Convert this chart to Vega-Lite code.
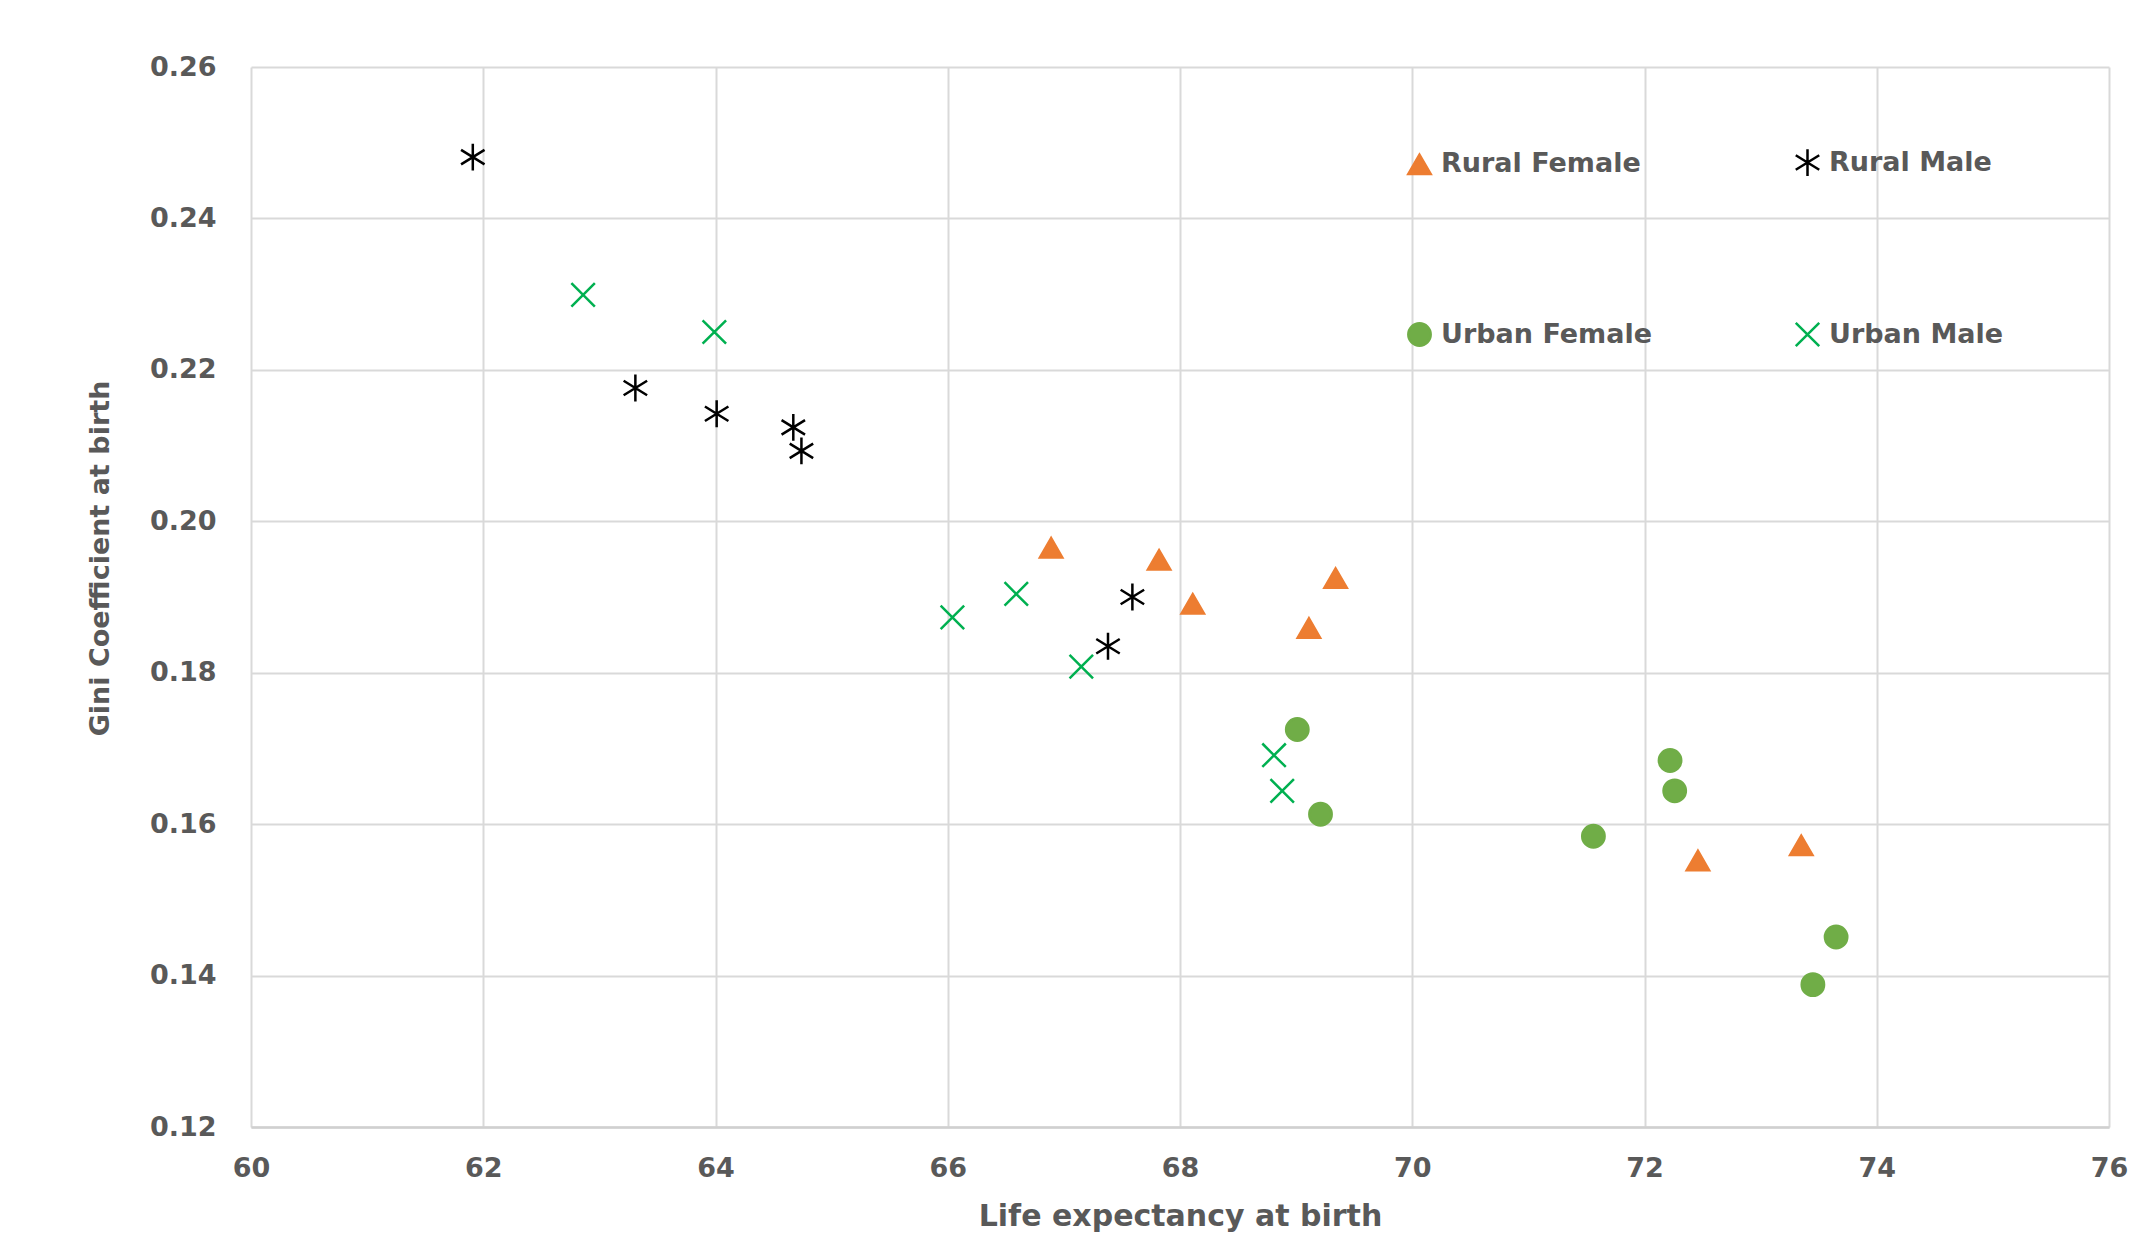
{
  "$schema": "https://vega.github.io/schema/vega-lite/v6.json",
  "width": 1858,
  "height": 1060,
  "autosize": "none",
  "padding": {"left": 251, "top": 67, "right": 34, "bottom": 126},
  "background": "white",
  "config": {
    "view": {"stroke": null},
    "font": "DejaVu Sans"
  },
  "data": {
    "values": [
      {"group": "Rural Male", "life": 61.91, "gini": 0.2481},
      {"group": "Rural Male", "life": 63.31, "gini": 0.2176},
      {"group": "Rural Male", "life": 64.01, "gini": 0.2142},
      {"group": "Rural Male", "life": 64.67, "gini": 0.2124},
      {"group": "Rural Male", "life": 64.74, "gini": 0.2093},
      {"group": "Rural Male", "life": 67.59, "gini": 0.1900},
      {"group": "Rural Male", "life": 67.38, "gini": 0.1835},
      {"group": "Urban Male", "life": 62.86, "gini": 0.2299},
      {"group": "Urban Male", "life": 63.99, "gini": 0.2250},
      {"group": "Urban Male", "life": 66.04, "gini": 0.1873},
      {"group": "Urban Male", "life": 66.59, "gini": 0.1904},
      {"group": "Urban Male", "life": 67.15, "gini": 0.1808},
      {"group": "Urban Male", "life": 68.81, "gini": 0.1691},
      {"group": "Urban Male", "life": 68.88, "gini": 0.1644},
      {"group": "Rural Female", "life": 66.89, "gini": 0.1965},
      {"group": "Rural Female", "life": 67.82, "gini": 0.1949},
      {"group": "Rural Female", "life": 68.11, "gini": 0.1891},
      {"group": "Rural Female", "life": 69.34, "gini": 0.1925},
      {"group": "Rural Female", "life": 69.11, "gini": 0.1859},
      {"group": "Rural Female", "life": 72.46, "gini": 0.1552},
      {"group": "Rural Female", "life": 73.35, "gini": 0.1572},
      {"group": "Urban Female", "life": 69.01, "gini": 0.1725},
      {"group": "Urban Female", "life": 69.21, "gini": 0.1613},
      {"group": "Urban Female", "life": 71.56, "gini": 0.1584},
      {"group": "Urban Female", "life": 72.22, "gini": 0.1684},
      {"group": "Urban Female", "life": 72.26, "gini": 0.1644},
      {"group": "Urban Female", "life": 73.65, "gini": 0.1451},
      {"group": "Urban Female", "life": 73.45, "gini": 0.1388}
    ]
  },
  "mark": {"type": "point", "opacity": 1, "strokeWidth": 2.5, "size": 500},
  "encoding": {
    "x": {
      "field": "life", "type": "quantitative",
      "scale": {"domain": [60, 76], "nice": false, "zero": false},
      "axis": {
        "title": "Life expectancy at birth",
        "values": [60, 62, 64, 66, 68, 70, 72, 74, 76],
        "grid": true, "gridColor": "#D9D9D9", "gridWidth": 2,
        "domain": true, "domainColor": "#D0D0D0", "domainWidth": 2.5,
        "ticks": false, "tickSize": 0,
        "labelFlush": false, "labelOverlap": false,
        "labelFont": "DejaVu Sans", "labelFontSize": 27, "labelFontWeight": "bold", "labelColor": "#595959",
        "labelBaseline": "middle", "labelPadding": 41,
        "titleFont": "DejaVu Sans", "titleFontSize": 30, "titleFontWeight": "bold", "titleColor": "#595959",
        "titleBaseline": "middle", "titleY": 89
      }
    },
    "y": {
      "field": "gini", "type": "quantitative",
      "scale": {"domain": [0.12, 0.26], "nice": false, "zero": false},
      "axis": {
        "title": "Gini Coefficient at birth",
        "values": [0.12, 0.14, 0.16, 0.18, 0.20, 0.22, 0.24, 0.26],
        "format": ".2f",
        "grid": true, "gridColor": "#D9D9D9", "gridWidth": 2,
        "domain": false, "ticks": false, "tickSize": 0,
        "labelFlush": false, "labelOverlap": false,
        "labelFont": "DejaVu Sans", "labelFontSize": 27, "labelFontWeight": "bold", "labelColor": "#595959",
        "labelPadding": 35,
        "titleFont": "DejaVu Sans", "titleFontSize": 27, "titleFontWeight": "bold", "titleColor": "#595959",
        "titleBaseline": "middle", "titleX": -151, "titleY": 491, "titleAngle": -90
      }
    },
    "shape": {
      "field": "group", "type": "nominal",
      "scale": {
        "domain": ["Rural Female", "Rural Male", "Urban Female", "Urban Male"],
        "range": ["triangle-up", "M0,-1.2L0,1.2M-1.05,-0.65L1.05,0.65M-1.05,0.65L1.05,-0.65", "circle", "M-1.05,-1.05L1.05,1.05M-1.05,1.05L1.05,-1.05"]
      },
      "legend": {
        "title": null, "orient": "none", "legendX": 1155, "legendY": 82, "direction": "horizontal",
        "columns": 2, "columnPadding": 138, "rowPadding": 136,
        "symbolSize": 500, "symbolStrokeWidth": 2.5,
        "labelFont": "DejaVu Sans", "labelFontSize": 27, "labelFontWeight": "bold", "labelColor": "#595959",
        "labelOffset": 8, "labelLimit": 400
      }
    },
    "fill": {
      "field": "group", "type": "nominal",
      "scale": {
        "domain": ["Rural Female", "Rural Male", "Urban Female", "Urban Male"],
        "range": ["#ED7D31", "#000000", "#70AD47", "#00B050"]
      },
      "legend": {
        "title": null, "orient": "none", "legendX": 1155, "legendY": 82, "direction": "horizontal",
        "columns": 2, "columnPadding": 138, "rowPadding": 136,
        "symbolSize": 500, "symbolStrokeWidth": 2.5,
        "labelFont": "DejaVu Sans", "labelFontSize": 27, "labelFontWeight": "bold", "labelColor": "#595959",
        "labelOffset": 8, "labelLimit": 400
      }
    },
    "stroke": {
      "field": "group", "type": "nominal",
      "scale": {
        "domain": ["Rural Female", "Rural Male", "Urban Female", "Urban Male"],
        "range": ["#ED7D31", "#000000", "#70AD47", "#00B050"]
      },
      "legend": {
        "title": null, "orient": "none", "legendX": 1155, "legendY": 82, "direction": "horizontal",
        "columns": 2, "columnPadding": 138, "rowPadding": 136,
        "symbolSize": 500, "symbolStrokeWidth": 2.5,
        "labelFont": "DejaVu Sans", "labelFontSize": 27, "labelFontWeight": "bold", "labelColor": "#595959",
        "labelOffset": 8, "labelLimit": 400
      }
    }
  }
}
